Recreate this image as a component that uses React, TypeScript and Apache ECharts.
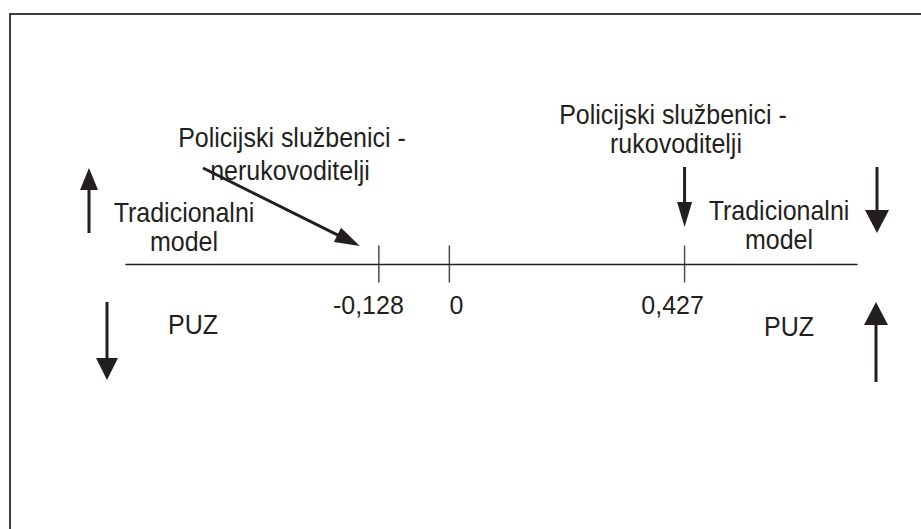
import React, { useEffect, useRef } from "react";
import * as echarts from "echarts";

// Number-line values
const tickValues: number[] = [-0.128, 0, 0.427];
const tickLabels: string[] = ["-0,128", "0", "0,427"];
const axisRange: number[] = [-0.587, 0.74];

// Annotation texts
const leftGroupLabel: string[] = ["Policijski službenici -", "nerukovoditelji"];
const rightGroupLabel: string[] = ["Policijski službenici -", "rukovoditelji"];
const modelLabel: string[] = ["Tradicionalni", "model"];
const puzLabel = "PUZ";

const FONT = '"Liberation Sans", Arial, Helvetica, sans-serif';
const INK = "#231f20";
const FS = 25;

function txt(text: string, x: number, y: number) {
  return {
    type: "text",
    x,
    y,
    scaleY: 1.1,
    silent: true,
    style: {
      text,
      fontSize: FS,
      fontFamily: FONT,
      fill: INK,
      align: "center",
      verticalAlign: "middle",
    },
  };
}

function vArrow(x: number, yTail: number, yTip: number, headLen: number, halfW: number) {
  const dir = yTip > yTail ? 1 : -1;
  const yBase = yTip - dir * headLen;
  return [
    {
      type: "line",
      silent: true,
      shape: { x1: x, y1: yTail, x2: x, y2: yBase + dir * 1 },
      style: { stroke: INK, lineWidth: 3 },
    },
    {
      type: "polygon",
      silent: true,
      shape: { points: [[x - halfW, yBase], [x + halfW, yBase], [x, yTip]] },
      style: { fill: INK },
    },
  ];
}

function dArrow(x1: number, y1: number, tx: number, ty: number, headLen: number, halfW: number) {
  const dx = tx - x1;
  const dy = ty - y1;
  const len = Math.sqrt(dx * dx + dy * dy);
  const ux = dx / len;
  const uy = dy / len;
  const bx = tx - ux * headLen;
  const by = ty - uy * headLen;
  const px = -uy;
  const py = ux;
  return [
    {
      type: "line",
      silent: true,
      shape: { x1, y1, x2: bx + ux, y2: by + uy },
      style: { stroke: INK, lineWidth: 3 },
    },
    {
      type: "polygon",
      silent: true,
      shape: {
        points: [
          [bx + px * halfW, by + py * halfW],
          [bx - px * halfW, by - py * halfW],
          [tx, ty],
        ],
      },
      style: { fill: INK },
    },
  ];
}

const labelShift: Record<string, number[]> = {
  "-0,128": [0, 21, 0, 0],
  "0": [0, 0, 0, 14],
  "0,427": [0, 24, 0, 0],
};

export default function App() {
  const ref = useRef<HTMLDivElement>(null);

  useEffect(() => {
    if (!ref.current) return;
    const chart = echarts.init(ref.current, null, { renderer: "svg" });

    const rich: Record<string, any> = {};
    tickLabels.forEach((t, i) => {
      rich["l" + i] = {
        fontSize: FS,
        fontFamily: FONT,
        color: INK,
        padding: labelShift[t] || [0, 0, 0, 0],
      };
    });

    chart.setOption({
      animation: false,
      backgroundColor: "#ffffff",
      grid: { left: 126, right: 64, top: 164, bottom: 265 },
      xAxis: {
        type: "value",
        min: axisRange[0],
        max: axisRange[1],
        axisLine: { show: true, onZero: false, lineStyle: { color: INK, width: 1.4 } },
        axisTick: { show: false },
        splitLine: { show: false },
        axisLabel: {
          show: true,
          customValues: tickValues,
          margin: 28,
          formatter: (v: number) => {
            const i = tickValues.findIndex((t) => Math.abs(t - v) < 1e-9);
            if (i < 0) return "";
            return "{l" + i + "|" + tickLabels[i] + "}";
          },
          rich,
        },
      },
      yAxis: { type: "value", min: 0, max: 1, show: false },
      series: [
        {
          type: "scatter",
          symbol: "rect",
          symbolSize: [1.5, 37],
          clip: false,
          itemStyle: { color: INK },
          silent: true,
          data: tickValues.map((v) => [v, 0]),
        },
      ],
    });

    const xNeg = chart.convertToPixel({ xAxisIndex: 0 }, tickValues[0]) as number;
    const xPos = chart.convertToPixel({ xAxisIndex: 0 }, tickValues[2]) as number;

    const elements: any[] = [
      {
        type: "rect",
        silent: true,
        shape: { x: 10, y: 14, width: 1000, height: 1000 },
        style: { fill: "none", stroke: "#3c3c3c", lineWidth: 2 },
      },
      txt(leftGroupLabel[0], 292, 138),
      txt(leftGroupLabel[1], 290, 171),
      txt(rightGroupLabel[0], 673, 115),
      txt(rightGroupLabel[1], 676, 144),
      txt(modelLabel[0], 184, 213),
      txt(modelLabel[1], 184, 242),
      txt(modelLabel[0], 779, 211),
      txt(modelLabel[1], 779, 240),
      txt(puzLabel, 193, 325),
      txt(puzLabel, 789, 327),
      ...vArrow(89, 233, 168, 22, 9),
      ...vArrow(107, 302, 380, 22, 11),
      ...vArrow(xPos, 167, 227, 25, 7.5),
      ...vArrow(877, 167, 233, 23, 12),
      ...vArrow(876, 382, 302, 23, 12),
      ...dArrow(203, 168, xNeg - 19, 246, 25, 8),
    ];

    chart.setOption({ graphic: { elements } });

    return () => chart.dispose();
  }, []);

  return (
    <div
      ref={ref}
      style={{ position: "fixed", left: 0, top: 0, width: 921, height: 529 }}
    />
  );
}
